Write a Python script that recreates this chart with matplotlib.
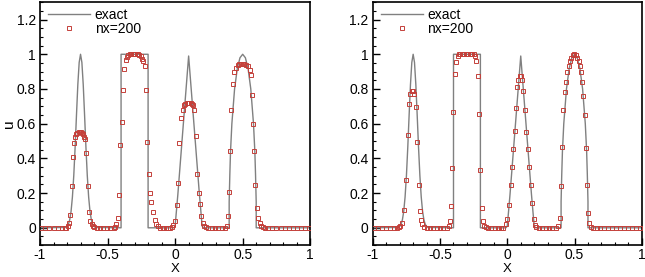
import matplotlib
matplotlib.use("Agg")
import matplotlib.pyplot as plt
from matplotlib.ticker import MultipleLocator

plt.rcParams["font.family"] = ["Liberation Sans", "DejaVu Sans"]

# exact solution (same for both panels)
exact_x = [-1.0, -0.81, -0.80, -0.79, -0.78, -0.77, -0.76, -0.75, -0.74, -0.73,
           -0.72, -0.71, -0.70, -0.69, -0.68, -0.67, -0.66, -0.65, -0.64, -0.63,
           -0.62, -0.61, -0.60, -0.59, -0.40, -0.40, -0.20, -0.20, -0.01, 0.0,
           0.02, 0.05, 0.08, 0.10, 0.12, 0.15, 0.18, 0.20, 0.21, 0.40, 0.40,
           0.405, 0.41, 0.42, 0.44, 0.46, 0.48, 0.50, 0.52, 0.54, 0.56, 0.58,
           0.59, 0.595, 0.60, 0.60, 1.0]
exact_u = [0.0, 0.002, 0.008, 0.020, 0.046, 0.095, 0.178, 0.301, 0.464, 0.649,
           0.825, 0.953, 1.0, 0.953, 0.825, 0.649, 0.464, 0.301, 0.178, 0.095,
           0.046, 0.020, 0.008, 0.002, 0.0, 1.0, 1.0, 0.0, 0.0, 0.01,
           0.19, 0.49, 0.79, 0.99, 0.79, 0.49, 0.19, 0.01, 0.0, 0.0, 0.15,
           0.31, 0.44, 0.60, 0.80, 0.917, 0.98, 1.0, 0.98, 0.917, 0.80, 0.60,
           0.44, 0.31, 0.15, 0.0, 0.0]

# nx=200, left panel
left_x = [-0.99, -0.96, -0.93, -0.90, -0.87, -0.84, -0.815,
          -0.805, -0.795, -0.785, -0.775, -0.765, -0.755, -0.747, -0.739, -0.731, -0.723,
          -0.715, -0.707, -0.699, -0.691, -0.683, -0.675, -0.667, -0.658, -0.648, -0.638,
          -0.628, -0.618, -0.608, -0.598,
          -0.58, -0.555, -0.53, -0.505, -0.48, -0.455,
          -0.445, -0.435, -0.425, -0.415, -0.405, -0.395, -0.385, -0.375, -0.365, -0.355,
          -0.345, -0.335, -0.325, -0.315, -0.305, -0.295, -0.285, -0.275, -0.265, -0.255,
          -0.245, -0.235, -0.225, -0.215, -0.205, -0.195, -0.185, -0.175, -0.162, -0.15,
          -0.138, -0.126,
          -0.11, -0.09, -0.07, -0.05, -0.035,
          -0.025, -0.012, 0.0, 0.012, 0.02, 0.032, 0.044, 0.055, 0.065, 0.075, 0.085,
          0.095, 0.105, 0.115, 0.123, 0.131, 0.143, 0.153, 0.165, 0.178, 0.185, 0.195,
          0.205, 0.215, 0.225,
          0.245, 0.27, 0.295, 0.32, 0.345, 0.37, 0.385,
          0.395, 0.40, 0.407, 0.415, 0.427, 0.439, 0.451, 0.464, 0.476, 0.488, 0.50,
          0.512, 0.525, 0.538, 0.552, 0.562, 0.572, 0.579, 0.586, 0.593, 0.603, 0.615,
          0.627, 0.638, 0.65,
          0.665, 0.69, 0.72, 0.75, 0.78, 0.81, 0.84, 0.87, 0.90, 0.93, 0.96, 0.99]
left_u = [0.0, 0.0, 0.0, 0.0, 0.0, 0.0, 0.0,
          0.0, 0.01, 0.03, 0.076, 0.24, 0.41, 0.49, 0.525, 0.54, 0.547,
          0.55, 0.55, 0.55, 0.548, 0.54, 0.525, 0.51, 0.43, 0.24, 0.09,
          0.04, 0.02, 0.01, 0.004,
          0.0, 0.0, 0.0, 0.0, 0.0, 0.0,
          0.005, 0.02, 0.057, 0.19, 0.48, 0.61, 0.795, 0.915, 0.965, 0.985,
          0.995, 1.0, 1.0, 1.0, 1.0, 1.0, 1.0, 1.0, 0.995, 0.99,
          0.975, 0.96, 0.935, 0.795, 0.495, 0.31, 0.2, 0.147, 0.09, 0.045,
          0.02, 0.008,
          0.0, 0.0, 0.0, 0.0, 0.0,
          0.005, 0.015, 0.042, 0.133, 0.257, 0.49, 0.63, 0.68, 0.705, 0.715, 0.72,
          0.72, 0.72, 0.72, 0.715, 0.705, 0.676, 0.53, 0.309, 0.2, 0.139, 0.07,
          0.03, 0.01, 0.004,
          0.0, 0.0, 0.0, 0.0, 0.0, 0.0, 0.01,
          0.067, 0.206, 0.44, 0.676, 0.83, 0.895, 0.92, 0.94, 0.942, 0.942, 0.942,
          0.942, 0.94, 0.935, 0.91, 0.88, 0.765, 0.6, 0.44, 0.245, 0.112, 0.057,
          0.03, 0.012, 0.004,
          0.0, 0.0, 0.0, 0.0, 0.0, 0.0, 0.0, 0.0, 0.0, 0.0, 0.0, 0.0]

# nx=200, right panel
right_x = [-0.99, -0.96, -0.93, -0.90, -0.87, -0.84, -0.82,
           -0.807, -0.797, -0.78, -0.765, -0.75, -0.74, -0.73, -0.722, -0.712, -0.70,
           -0.69, -0.68, -0.67, -0.658, -0.648, -0.64, -0.632, -0.622,
           -0.60, -0.575, -0.55, -0.525, -0.50, -0.475, -0.45,
           -0.437, -0.425, -0.418, -0.41, -0.40, -0.39, -0.38, -0.37, -0.36, -0.35,
           -0.34, -0.33, -0.32, -0.31, -0.30, -0.29, -0.28, -0.27, -0.26, -0.25,
           -0.24, -0.23, -0.219, -0.21, -0.202, -0.19, -0.18, -0.17, -0.16,
           -0.145, -0.12, -0.095, -0.07, -0.045, -0.029,
           -0.011, 0.001, 0.013, 0.026, 0.036, 0.045, 0.056, 0.063, 0.073, 0.083,
           0.093, 0.103, 0.111, 0.12, 0.13, 0.14, 0.152, 0.162, 0.175, 0.185,
           0.195, 0.205, 0.215,
           0.235, 0.26, 0.285, 0.31, 0.335, 0.36, 0.38,
           0.393, 0.398, 0.405, 0.417, 0.43, 0.44, 0.447, 0.457, 0.467, 0.477,
           0.489, 0.499, 0.511, 0.521, 0.531, 0.541, 0.551, 0.558, 0.566, 0.578,
           0.586, 0.593, 0.603, 0.61, 0.62,
           0.64, 0.665, 0.69, 0.72, 0.75, 0.78, 0.81, 0.84, 0.87, 0.90, 0.93, 0.96, 0.99]
right_u = [0.0, 0.0, 0.0, 0.0, 0.0, 0.0, 0.0,
           0.003, 0.01, 0.029, 0.105, 0.276, 0.533, 0.714, 0.771, 0.79, 0.79,
           0.771, 0.695, 0.495, 0.248, 0.095, 0.045, 0.019, 0.005,
           0.0, 0.0, 0.0, 0.0, 0.0, 0.0, 0.0,
           0.012, 0.038, 0.124, 0.343, 0.667, 0.886, 0.957, 0.99, 1.0, 1.0,
           1.0, 1.0, 1.0, 1.0, 1.0, 1.0, 1.0, 1.0, 1.0, 1.0,
           0.99, 0.96, 0.876, 0.657, 0.333, 0.114, 0.038, 0.012, 0.003,
           0.0, 0.0, 0.0, 0.0, 0.0, 0.0,
           0.023, 0.048, 0.133, 0.244, 0.352, 0.452, 0.556, 0.689, 0.81, 0.853,
           0.874, 0.872, 0.85, 0.79, 0.676, 0.552, 0.452, 0.352, 0.244, 0.143,
           0.048, 0.015, 0.004,
           0.0, 0.0, 0.0, 0.0, 0.0, 0.0, 0.01,
           0.057, 0.238, 0.463, 0.676, 0.78, 0.838, 0.895, 0.933, 0.962, 0.981,
           0.996, 1.0, 0.996, 0.981, 0.962, 0.933, 0.895, 0.838, 0.762, 0.648,
           0.457, 0.248, 0.086, 0.029, 0.005,
           0.0, 0.0, 0.0, 0.0, 0.0, 0.0, 0.0, 0.0, 0.0, 0.0, 0.0, 0.0, 0.0]

fig = plt.figure(figsize=(6.45, 2.77), dpi=100)
ax_left = fig.add_axes([0.062, 0.115, 0.419, 0.877])
ax_right = fig.add_axes([0.578, 0.115, 0.417, 0.877])

for ax, mx, mu in [(ax_left, left_x, left_u), (ax_right, right_x, right_u)]:
    ax.plot(exact_x, exact_u, color="#808080", lw=1.0, label="exact", zorder=2)
    ax.plot(mx, mu, ls="", marker="s", ms=2.5, mfc="none", mec="#c4403a",
            mew=0.7, label="nx=200", zorder=3)
    ax.set_xlim(-1, 1)
    ax.set_ylim(-0.1, 1.3)
    ax.xaxis.set_minor_locator(MultipleLocator(0.1))
    ax.yaxis.set_minor_locator(MultipleLocator(0.05))
    ax.set_xticks([-1, -0.5, 0, 0.5, 1])
    ax.set_xticklabels(["-1", "-0.5", "0", "0.5", "1"])
    ax.set_yticks([0, 0.2, 0.4, 0.6, 0.8, 1.0, 1.2])
    ax.set_yticklabels(["0", "0.2", "0.4", "0.6", "0.8", "1", "1.2"])
    ax.tick_params(which="major", direction="in", length=5, width=1, labelsize=10, pad=3)
    ax.tick_params(axis="x", which="major", pad=2)
    ax.tick_params(which="minor", direction="in", length=2.5, width=0.8)
    for s in ax.spines.values():
        s.set_linewidth(1.2)
    ax.set_xlabel("X", fontsize=9.5)
    ax.xaxis.set_label_coords(0.5, -0.072)
    ax.legend(loc="upper left", bbox_to_anchor=(0.03, 0.975), frameon=False,
              fontsize=10, handlelength=3, handletextpad=0.35,
              labelspacing=0.0, borderpad=0, borderaxespad=0)

ax_left.set_ylabel("u", fontsize=11)
ax_left.yaxis.set_label_coords(-0.088, 0.5)

plt.savefig("out.png", dpi=100)
